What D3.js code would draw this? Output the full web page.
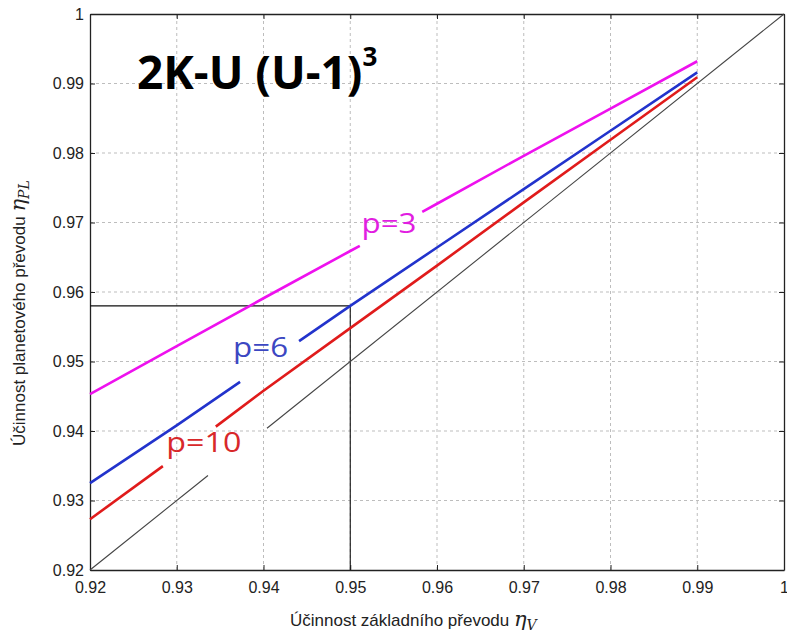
<!DOCTYPE html>
<html>
<head>
<meta charset="utf-8">
<script src="https://cdn.jsdelivr.net/npm/d3@7"></script>
<style>
  body { margin: 0; background: #fff; }
  .tick text { font-family: "Liberation Sans", Arial, sans-serif; font-size: 16px; fill: #222; }
  .grid line { stroke: #bdbdbd; stroke-dasharray: 3,3; }
</style>
</head>
<body>
<svg id="chart" width="787" height="634"></svg>
<script>
"use strict";

// efficiency of the basic gear, read at each grid step
const etaV = [0.92, 0.93, 0.94, 0.95, 0.96, 0.97, 0.98, 0.99];
const etaP3 = [0.9453, 0.9522, 0.9591, 0.9659, 0.9727, 0.9796, 0.9864, 0.9932];
const etaP6 = [0.9325, 0.9408, 0.9494, 0.9580, 0.9664, 0.9748, 0.9832, 0.9916];
const etaP10 = [0.9273, 0.9364, 0.9458, 0.9548, 0.9638, 0.9729, 0.9819, 0.9909];
const diagX = [0.92, 1];

// where each line is broken for its label (in eta_V units)
const gapP3 = [0.9511, 0.9583];
const gapP6 = [0.9373, 0.9441];
const gapP10 = [0.9284, 0.9345];
const gapDiag = [0.9336, 0.9404];

// chosen working point
const markX = 0.95, markY = 0.958;

const xTicks = [0.92, 0.93, 0.94, 0.95, 0.96, 0.97, 0.98, 0.99, 1];
const yTicks = [0.92, 0.93, 0.94, 0.95, 0.96, 0.97, 0.98, 0.99, 1];

const width = 787, height = 634;
const margin = {top: 14, right: 3, bottom: 64, left: 90};

const svg = d3.select("#chart");
const x = d3.scaleLinear().domain([0.92, 1]).range([margin.left, width - margin.right]);
const y = d3.scaleLinear().domain([0.92, 1]).range([height - margin.bottom, margin.top]);
const fmt = d => d === 1 ? "1" : d3.format(".2f")(d);

// grid
svg.append("g").attr("class", "grid")
    .selectAll("line").data(xTicks.slice(1, -1)).enter().append("line")
    .attr("x1", d => x(d)).attr("x2", d => x(d))
    .attr("y1", y(0.92)).attr("y2", y(1));
svg.append("g").attr("class", "grid")
    .selectAll("line").data(yTicks.slice(1, -1)).enter().append("line")
    .attr("y1", d => y(d)).attr("y2", d => y(d))
    .attr("x1", x(0.92)).attr("x2", x(1));

// axes, ticks inside on all four sides
const axisStyle = g => {
    g.select(".domain").attr("stroke", "#222").attr("stroke-width", 1.3);
    g.selectAll(".tick line").attr("stroke", "#222");
};
svg.append("g").attr("transform", `translate(0,${y(0.92)})`)
    .call(d3.axisBottom(x).tickValues(xTicks).tickFormat(fmt).tickSizeInner(-5).tickSizeOuter(0).tickPadding(12))
    .call(axisStyle);
svg.append("g").attr("transform", `translate(${x(0.92)},0)`)
    .call(d3.axisLeft(y).tickValues(yTicks).tickFormat(fmt).tickSizeInner(-5).tickSizeOuter(0).tickPadding(6))
    .call(axisStyle);
svg.append("g").attr("transform", `translate(0,${y(1)})`)
    .call(d3.axisTop(x).tickValues(xTicks).tickFormat("").tickSizeInner(-5).tickSizeOuter(0))
    .call(axisStyle);
svg.append("g").attr("transform", `translate(${x(1)},0)`)
    .call(d3.axisRight(y).tickValues(yTicks).tickFormat("").tickSizeInner(-5).tickSizeOuter(0))
    .call(axisStyle);

// split a series in two parts around a gap
function splitAt(xs, ys, gap) {
    const at = v => {
        const i = Math.max(1, d3.bisectLeft(xs, v));
        const t = (v - xs[i - 1]) / (xs[i] - xs[i - 1]);
        return [v, ys[i - 1] + t * (ys[i] - ys[i - 1])];
    };
    const pts = xs.map((d, i) => [d, ys[i]]);
    return [
        pts.filter(p => p[0] < gap[0]).concat([at(gap[0])]),
        [at(gap[1])].concat(pts.filter(p => p[0] > gap[1]))
    ];
}

const line = d3.line().x(d => x(d[0])).y(d => y(d[1]));

// reference lines at the working point
svg.append("path")
    .attr("d", line([[0.92, markY], [markX, markY], [markX, 0.92]]))
    .attr("fill", "none").attr("stroke", "#111").attr("stroke-width", 1.1);

const series = [
    {xs: diagX, ys: diagX, gap: gapDiag, color: "#444", w: 1.1},
    {xs: etaV, ys: etaP10, gap: gapP10, color: "#e01b1b", w: 2.6},
    {xs: etaV, ys: etaP6, gap: gapP6, color: "#2233cc", w: 2.6},
    {xs: etaV, ys: etaP3, gap: gapP3, color: "#ee11ee", w: 2.6}
];
series.forEach(s => {
    svg.append("g").selectAll("path")
        .data(splitAt(s.xs, s.ys, s.gap)).enter().append("path")
        .attr("d", line)
        .attr("fill", "none")
        .attr("stroke", s.color)
        .attr("stroke-width", s.w);
});

// curve labels
const labels = [
    {text: "p=3", x: 0.9513, y: 0.9685, color: "#e11ee1", len: 55},
    {text: "p=6", x: 0.9365, y: 0.9506, color: "#3c47c2", len: 55},
    {text: "p=10", x: 0.9288, y: 0.9370, color: "#d8282a", len: 75}
];
svg.append("g").selectAll("text").data(labels).enter().append("text")
    .attr("x", d => x(d.x)).attr("y", d => y(d.y))
    .attr("fill", d => d.color)
    .attr("textLength", d => d.len)
    .attr("lengthAdjust", "spacingAndGlyphs")
    .style("font-family", "'Open Sans', sans-serif")
    .style("font-size", "28px")
    .text(d => d.text);

// title
const title = svg.append("text")
    .attr("x", 137).attr("y", 89)
    .style("font-family", "'Open Sans', sans-serif")
    .style("font-weight", "bold")
    .style("font-size", "46px")
    .attr("fill", "#000");
title.append("tspan").text("2K-U (U-1)");
title.append("tspan").attr("dy", -23).style("font-size", "26px").text("3");

// axis titles
const axisFont = "'Liberation Sans', Arial, sans-serif";
const xl = svg.append("text")
    .attr("x", 290).attr("y", 626)
    .style("font-family", axisFont).style("font-size", "17px").attr("fill", "#222");
xl.append("tspan").text("Účinnost základního převodu ");
xl.append("tspan").style("font-family", "'DejaVu Serif', serif").style("font-style", "italic").style("font-size", "21px").text("η");
xl.append("tspan").attr("dy", 4).style("font-family", "'DejaVu Serif', serif").style("font-style", "italic").style("font-size", "14px").text("V");

const yl = svg.append("text")
    .attr("transform", "translate(25,446) rotate(-90)")
    .style("font-family", axisFont).style("font-size", "17px").attr("fill", "#222");
yl.append("tspan").text("Účinnost planetového převodu ");
yl.append("tspan").style("font-family", "'DejaVu Serif', serif").style("font-style", "italic").style("font-size", "21px").text("η");
yl.append("tspan").attr("dy", 4).style("font-family", "'DejaVu Serif', serif").style("font-style", "italic").style("font-size", "14px").text("PL");
</script>
</body>
</html>
